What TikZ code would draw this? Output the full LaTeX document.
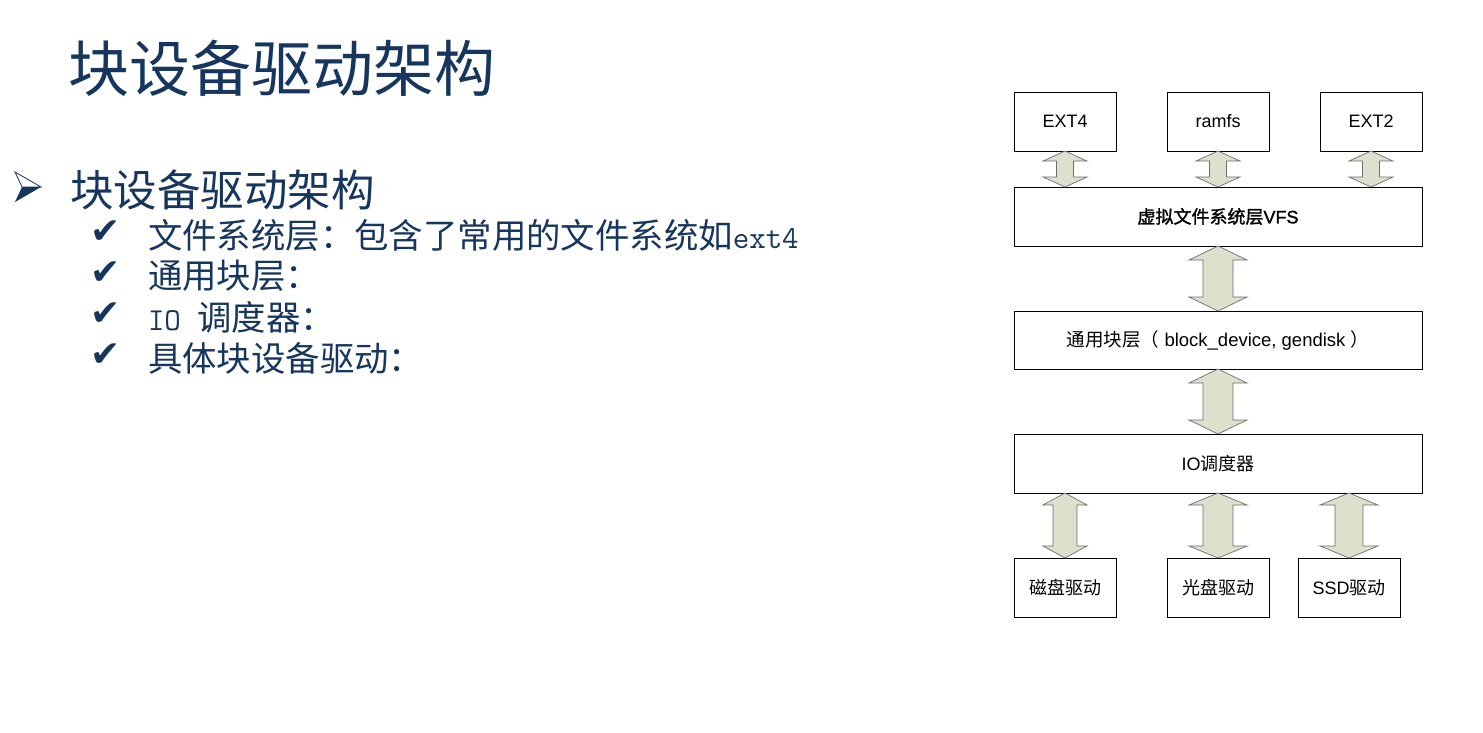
\documentclass[tikz,border=0pt]{standalone}
\usepackage{fontspec}
\setmainfont{Liberation Sans}
\newfontfamily\cjk{Noto Sans CJK SC}
\newfontfamily\cjkb[FakeBold=1.5]{Noto Sans CJK SC}
\newfontfamily\latb[FakeBold=1.5]{Liberation Sans}
\newfontfamily\dejavu{DejaVu Sans}
\usetikzlibrary{calc}
\definecolor{navy}{RGB}{23,54,93}
\definecolor{arrowfill}{RGB}{221,224,204}
\definecolor{arrowline}{RGB}{110,110,110}
\tikzset{
  box/.style={draw=black, line width=0.9pt, rectangle, inner sep=0pt, outer sep=0pt, font=\fontsize{18}{20}\selectfont},
  smallbox/.style={box, minimum width=102pt, minimum height=59pt},
  widebox/.style={box, minimum width=408pt, minimum height=59pt},
  arrowsty/.style={draw=arrowline, fill=arrowfill, line width=0.7pt, line join=miter},
  txt/.style={inner sep=0pt, outer sep=0pt, anchor=west, text=navy},
  check/.style={txt, font=\dejavu\fontsize{36}{38}\selectfont}
}
% #1 top point, #2 bottom point, #3 head half width, #4 shaft half width, #5 head length
\newcommand\dblarrow[5]{%
  \draw[arrowsty] let \p1=(#1), \p2=(#2) in
    (\x1,\y1) -- (\x1+#3,\y1-#5) -- (\x1+#4,\y1-#5) -- (\x1+#4,\y2+#5) -- (\x1+#3,\y2+#5)
    -- (\x1,\y2) -- (\x1-#3,\y2+#5) -- (\x1-#4,\y2+#5) -- (\x1-#4,\y1-#5) -- (\x1-#3,\y1-#5) -- cycle;}
\begin{document}
\begin{tikzpicture}[x=1pt,y=-1pt]
\useasboundingbox (0,0) rectangle (1483,732);
\fill[white] (0,0) rectangle (1483,732);

% left text
\node[txt] (title) at (68,68) {\cjk\fontsize{61}{63}\selectfont 块设备驱动架构};
% bullet arrowhead
\coordinate (bt) at (15,172);
\coordinate (bn) at (22,187);
\coordinate (bp) at (41,187);
\coordinate (bb) at (15,202);
\draw[navy, line width=0.8pt, line join=miter] (bt) -- (bp) -- (bn) -- cycle;
\fill[navy] (bn) -- (bp) -- (bb) -- cycle;
\node[txt] (l1) at (70,190) {\cjk\fontsize{43.5}{45}\selectfont 块设备驱动架构};
\node[check] (c1) at (90,232) {✔};
\node[check] (c2) at (90,273) {✔};
\node[check] (c3) at (90,314) {✔};
\node[check] (c4) at (90,355) {✔};
\node[txt] (t1) at (148,235) {{\cjk\fontsize{34.4}{36}\selectfont 文件系统层：包含了常用的文件系统如}{\ttfamily\fontsize{32}{34}\selectfont ext4}};
\node[txt] (t2) at (148,276) {\cjk\fontsize{34.4}{36}\selectfont 通用块层：};
\node[txt] (t3) at (148,317) {{\ttfamily\fontsize{32}{34}\selectfont IO }{\cjk\fontsize{34.4}{36}\selectfont 调度器：}};
\node[txt] (t4) at (148,358) {\cjk\fontsize{34.4}{36}\selectfont 具体块设备驱动：};

% diagram boxes
\node[smallbox] (ext4) at (1065,121.5) {EXT4};
\node[smallbox] (ramfs) at (1218,121.5) {ramfs};
\node[smallbox] (ext2) at (1371,121.5) {EXT2};
\node[widebox] (vfs) at (1218,216.5) {\cjkb 虚拟文件系统层\latb VFS};
\node[widebox, minimum height=58pt, font=\fontsize{18.5}{20}\selectfont] (gen) at (1218,340) {{\cjk 通用块层（}\ block\_device, gendisk\ {\cjk ）}};
\node[widebox] (io) at (1218,463.5) {IO{\cjk 调度器}};
\node[smallbox] (disk) at (1065,587.5) {\cjk 磁盘驱动};
\node[smallbox] (cd) at (1218,587.5) {\cjk 光盘驱动};
\node[smallbox] (ssd) at (1349,587.5) {SSD{\cjk 驱动}};

% connectors
\dblarrow{ext4.south}{ext4.south |- vfs.north}{22pt}{8.5pt}{10pt}
\dblarrow{ramfs.south}{ramfs.south |- vfs.north}{22pt}{8.5pt}{10pt}
\dblarrow{ext2.south}{ext2.south |- vfs.north}{22pt}{8.5pt}{10pt}
\dblarrow{vfs.south}{gen.north}{29pt}{15pt}{14pt}
\dblarrow{gen.south}{io.north}{29pt}{15pt}{14pt}
\dblarrow{io.south -| disk.north}{disk.north}{22pt}{12pt}{12pt}
\dblarrow{io.south -| cd.north}{cd.north}{29pt}{15pt}{12pt}
\dblarrow{io.south -| ssd.north}{ssd.north}{29pt}{14pt}{12pt}
\end{tikzpicture}
\end{document}
